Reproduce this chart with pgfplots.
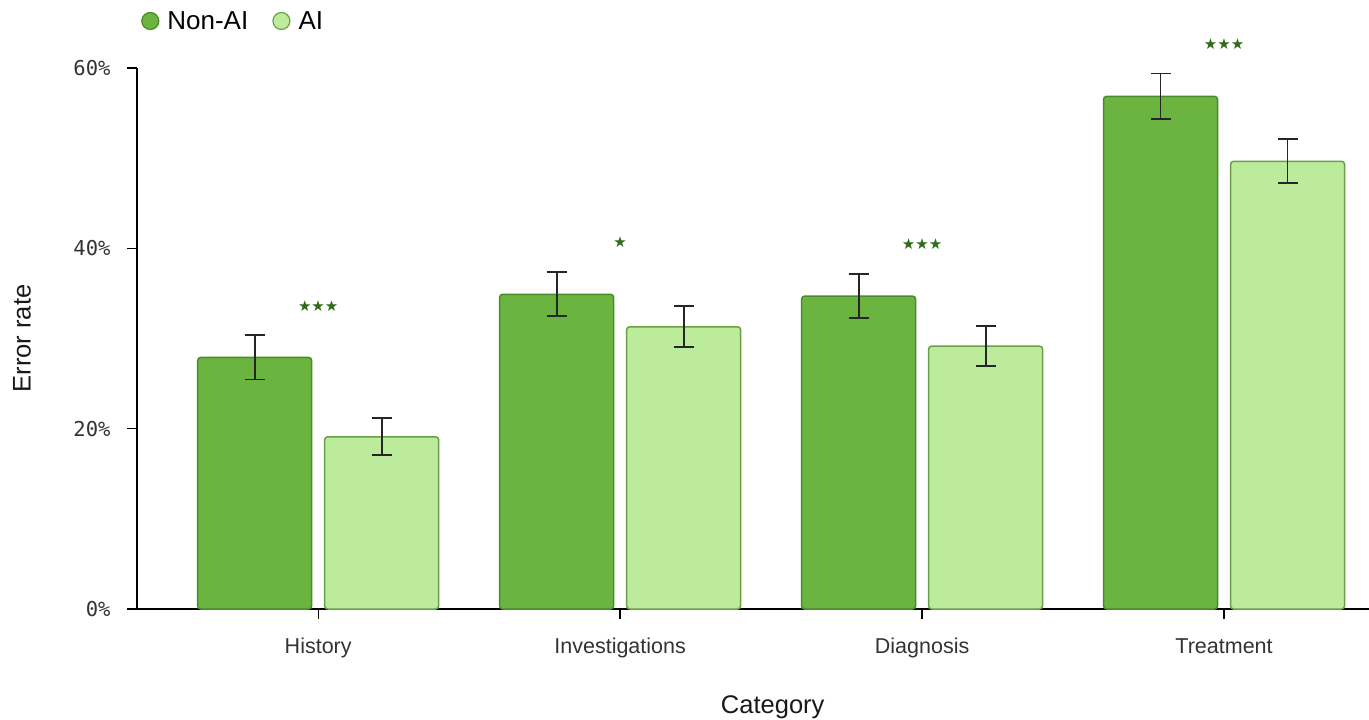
\documentclass[border=0pt]{standalone}
\usepackage{pgfplots}
\pgfplotsset{compat=1.18}
\usepackage{pgfplotstable}
\usepackage{fontspec}
\setmainfont{Liberation Sans}
\newfontfamily\monofont{DejaVu Sans Mono}
\newfontfamily\symfont{DejaVu Sans}
\definecolor{nonai}{HTML}{6BB43F}
\definecolor{nonaiedge}{HTML}{4A8A2A}
\definecolor{ai}{HTML}{BBEB9B}
\definecolor{aiedge}{HTML}{6A9F48}
\definecolor{stargreen}{HTML}{2E6B1A}
\pgfplotstableread{
x y e
0 27.9 2.45
1 34.9 2.44
2 34.7 2.44
3 56.85 2.55
}\nonaidata
\pgfplotstableread{
x y e
0 19.1 2.05
1 31.3 2.27
2 29.15 2.22
3 49.65 2.44
}\aidata
\pgfplotsset{myerr/.style={
  error bars/y dir=both, error bars/y explicit,
  error bars/error bar style={line width=1.8pt, black!85, rounded corners=0pt},
  error bars/error mark options={line width=1.8pt, black!85, mark size=10pt, rotate=90},
}}
\begin{document}
\begin{tikzpicture}
\begin{axis}[name=ax, scale only axis, width=1232pt, height=541pt,
  xmin=-0.6, xmax=3.48, ymin=0, ymax=60,
  axis x line=bottom, axis y line=left,
  axis line style={-, line width=1.3pt, black},
  xtick={0,1,2,3}, xticklabels={History,Investigations,Diagnosis,Treatment},
  ytick={0,20,40,60}, yticklabels={0\%,20\%,40\%,60\%},
  tick align=outside, major tick length=10pt,
  tick style={line width=1.3pt, black},
  xticklabel style={font=\fontsize{21.5}{24}\selectfont, text=black!80, anchor=base, yshift=-34pt},
  yticklabel style={font=\monofont\fontsize{20.5}{24}\selectfont, text=black!80, xshift=-13pt},
  every axis y label/.style={at={(axis description cs:-0.0933,0.5)}, rotate=90, anchor=center},
  every axis x label/.style={at={(axis description cs:0.516,-0.1812)}, anchor=center},
  xlabel={Category}, ylabel={Error rate},
  label style={font=\fontsize{25.5}{30}\selectfont, text=black!90},
  ybar, bar width=114pt, clip=false,
  legend style={draw=none, fill=none, legend columns=2, at={(axis description cs:0,1)}, anchor=west,
    xshift=1pt, yshift=47pt, font=\fontsize{26}{30}\selectfont,
    /tikz/every odd column/.append style={column sep=6pt},
    /tikz/every even column/.append style={column sep=22pt}},
]
\addplot[fill=nonai, draw=nonaiedge, line width=1.5pt, rounded corners=3pt, bar shift=-63.5pt, myerr,
  legend image code/.code={\draw[fill=nonai, draw=nonaiedge, line width=1.2pt] (0pt,0pt) circle (8.5pt);}]
  table[x=x, y=y, y error=e] {\nonaidata};
\addlegendentry{Non-AI}
\addplot[fill=ai, draw=aiedge, line width=1.5pt, rounded corners=3pt, bar shift=63.5pt, myerr,
  legend image code/.code={\draw[fill=ai, draw=aiedge, line width=1.2pt] (0pt,0pt) circle (8.5pt);}]
  table[x=x, y=y, y error=e] {\aidata};
\addlegendentry{AI}
\node[text=stargreen, font=\symfont\fontsize{15}{15}\selectfont] at (axis cs:0,33.6) {★★★};
\node[text=stargreen, font=\symfont\fontsize{15}{15}\selectfont] at (axis cs:1,40.7) {★};
\node[text=stargreen, font=\symfont\fontsize{15}{15}\selectfont] at (axis cs:2,40.5) {★★★};
\node[text=stargreen, font=\symfont\fontsize{15}{15}\selectfont] at (axis cs:3,62.7) {★★★};
\end{axis}
\pgfresetboundingbox
\path ([xshift=-137pt,yshift=-110pt]ax.south west) rectangle ([yshift=68pt]ax.north east);
\end{tikzpicture}
\end{document}
